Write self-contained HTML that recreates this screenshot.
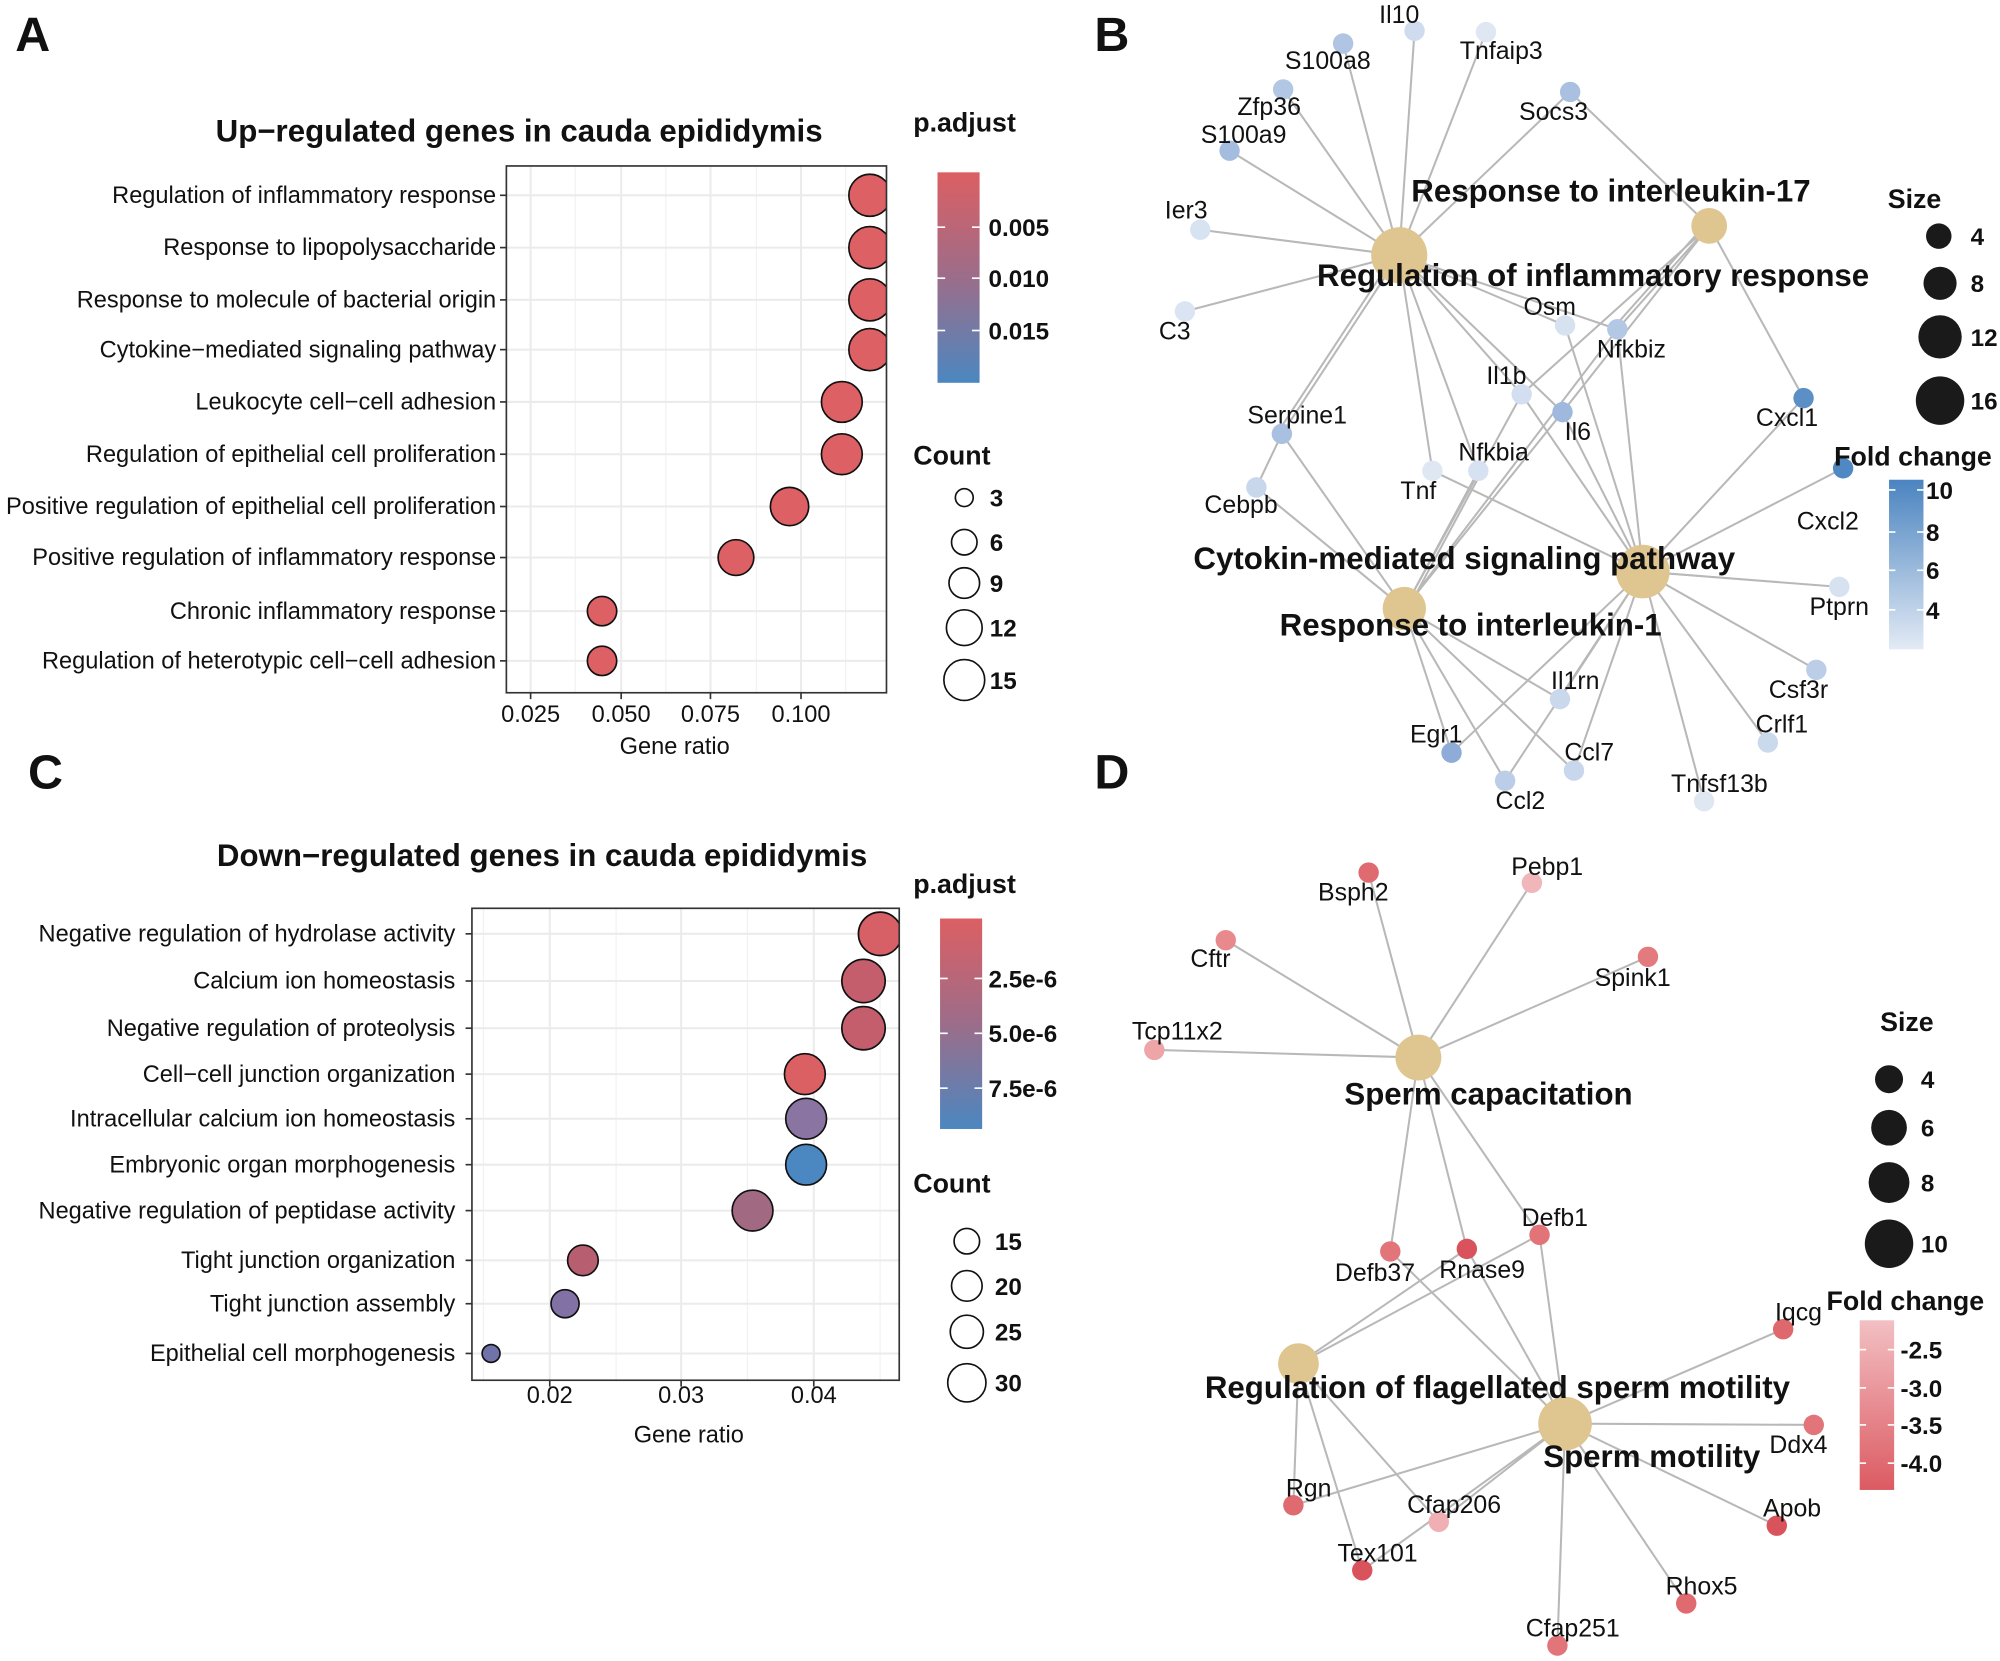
<!DOCTYPE html>
<html><head><meta charset="utf-8"><style>
html,body{margin:0;padding:0;background:#fff}
svg{display:block}
text{font-family:"Liberation Sans",Arial,sans-serif;fill:#111}
.lab{font-size:18.5px;text-anchor:end}
.b{font-weight:bold}
.g{font-size:19.5px}
.cat{font-size:24.5px;font-weight:bold;text-anchor:middle}
.e{stroke:#b8b8b8;stroke-width:1.6;fill:none}
.grid{stroke:#ebebeb;stroke-width:1.6}
.gridm{stroke:#f2f2f2;stroke-width:1}
</style></head><body>
<svg width="2000" height="1661" viewBox="0 0 1568 1302" xmlns="http://www.w3.org/2000/svg">
<defs>
<linearGradient id="pa" x1="0" y1="0" x2="0" y2="1"><stop offset="0" stop-color="#dc5f63"/><stop offset="0.5" stop-color="#9c6d8a"/><stop offset="1" stop-color="#4b87c0"/></linearGradient>
<linearGradient id="fb" x1="0" y1="0" x2="0" y2="1"><stop offset="0" stop-color="#4a84c0"/><stop offset="1" stop-color="#e3eaf5"/></linearGradient>
<linearGradient id="fd" x1="0" y1="0" x2="0" y2="1"><stop offset="0" stop-color="#f2c0c3"/><stop offset="1" stop-color="#dc5a62"/></linearGradient>
<clipPath id="ca"><rect x="397" y="130" width="298" height="413"/></clipPath>
<clipPath id="cc"><rect x="370" y="712" width="335" height="370"/></clipPath>
</defs>
<rect width="1568" height="1302" fill="#fff"/>
<text x="12" y="40" font-size="38" class="b">A</text>
<text x="858" y="40" font-size="38" class="b">B</text>
<text x="22" y="618" font-size="38" class="b">C</text>
<text x="858" y="618" font-size="38" class="b">D</text>

<!-- PANEL A -->
<text x="407" y="111" font-size="24.5" class="b" text-anchor="middle">Up−regulated genes in cauda epididymis</text>
<g>
<line class="gridm" x1="451" y1="130" x2="451" y2="543"/><line class="gridm" x1="522" y1="130" x2="522" y2="543"/><line class="gridm" x1="593" y1="130" x2="593" y2="543"/><line class="gridm" x1="663" y1="130" x2="663" y2="543"/>
<line class="grid" x1="416" y1="130" x2="416" y2="543"/><line class="grid" x1="487" y1="130" x2="487" y2="543"/><line class="grid" x1="557" y1="130" x2="557" y2="543"/><line class="grid" x1="628" y1="130" x2="628" y2="543"/>
<g class="grid">
<line x1="397" y1="153" x2="695" y2="153"/><line x1="397" y1="194" x2="695" y2="194"/><line x1="397" y1="235" x2="695" y2="235"/><line x1="397" y1="274" x2="695" y2="274"/><line x1="397" y1="315" x2="695" y2="315"/><line x1="397" y1="356" x2="695" y2="356"/><line x1="397" y1="397" x2="695" y2="397"/><line x1="397" y1="437" x2="695" y2="437"/><line x1="397" y1="479" x2="695" y2="479"/><line x1="397" y1="518" x2="695" y2="518"/>
</g>
<g fill="#dc6064" stroke="#111" stroke-width="1.3" clip-path="url(#ca)">
<circle cx="682" cy="153" r="16.5"/><circle cx="682" cy="194" r="16.5"/><circle cx="682" cy="235" r="16.5"/><circle cx="682" cy="274" r="16.5"/>
<circle cx="660" cy="315" r="16"/><circle cx="660" cy="356" r="16"/><circle cx="619" cy="397" r="15"/><circle cx="577" cy="437" r="14"/>
<circle cx="472" cy="479" r="11.5"/><circle cx="472" cy="518" r="11.5"/>
</g>
<rect x="397" y="130" width="298" height="413" fill="none" stroke="#333" stroke-width="1.3"/>
<g stroke="#333" stroke-width="1.3">
<line x1="392" y1="153" x2="397" y2="153"/><line x1="392" y1="194" x2="397" y2="194"/><line x1="392" y1="235" x2="397" y2="235"/><line x1="392" y1="274" x2="397" y2="274"/><line x1="392" y1="315" x2="397" y2="315"/><line x1="392" y1="356" x2="397" y2="356"/><line x1="392" y1="397" x2="397" y2="397"/><line x1="392" y1="437" x2="397" y2="437"/><line x1="392" y1="479" x2="397" y2="479"/><line x1="392" y1="518" x2="397" y2="518"/>
<line x1="416" y1="543" x2="416" y2="548"/><line x1="487" y1="543" x2="487" y2="548"/><line x1="557" y1="543" x2="557" y2="548"/><line x1="628" y1="543" x2="628" y2="548"/>
</g>
<g class="lab">
<text x="389" y="159">Regulation of inflammatory response</text>
<text x="389" y="200">Response to lipopolysaccharide</text>
<text x="389" y="241">Response to molecule of bacterial origin</text>
<text x="389" y="280">Cytokine−mediated signaling pathway</text>
<text x="389" y="321">Leukocyte cell−cell adhesion</text>
<text x="389" y="362">Regulation of epithelial cell proliferation</text>
<text x="389" y="403">Positive regulation of epithelial cell proliferation</text>
<text x="389" y="443">Positive regulation of inflammatory response</text>
<text x="389" y="485">Chronic inflammatory response</text>
<text x="389" y="524">Regulation of heterotypic cell−cell adhesion</text>
</g>
<g font-size="18.5" text-anchor="middle">
<text x="416" y="566">0.025</text><text x="487" y="566">0.050</text><text x="557" y="566">0.075</text><text x="628" y="566">0.100</text>
<text x="529" y="591">Gene ratio</text>
</g>
<text x="716" y="103" font-size="21" class="b">p.adjust</text>
<rect x="735" y="135" width="33" height="165" fill="url(#pa)"/>
<g stroke="#fff" stroke-width="1.3"><line x1="735" y1="178" x2="741" y2="178"/><line x1="762" y1="178" x2="768" y2="178"/><line x1="735" y1="218" x2="741" y2="218"/><line x1="762" y1="218" x2="768" y2="218"/><line x1="735" y1="259" x2="741" y2="259"/><line x1="762" y1="259" x2="768" y2="259"/></g>
<g font-size="19" class="b"><text x="775" y="185">0.005</text><text x="775" y="225">0.010</text><text x="775" y="266">0.015</text></g>
<text x="716" y="364" font-size="21" class="b">Count</text>
<g fill="none" stroke="#111" stroke-width="1.3"><circle cx="756" cy="390" r="7"/><circle cx="756" cy="425" r="10"/><circle cx="756" cy="457" r="12"/><circle cx="756" cy="492" r="14"/><circle cx="756" cy="533" r="16"/></g>
<g font-size="19" class="b"><text x="776" y="397">3</text><text x="776" y="432">6</text><text x="776" y="464">9</text><text x="776" y="499">12</text><text x="776" y="540">15</text></g>
</g>

<!-- PANEL C -->
<text x="425" y="679" font-size="24.5" class="b" text-anchor="middle">Down−regulated genes in cauda epididymis</text>
<g>
<line class="gridm" x1="379" y1="712" x2="379" y2="1082"/><line class="gridm" x1="483" y1="712" x2="483" y2="1082"/><line class="gridm" x1="586" y1="712" x2="586" y2="1082"/><line class="gridm" x1="690" y1="712" x2="690" y2="1082"/>
<line class="grid" x1="431" y1="712" x2="431" y2="1082"/><line class="grid" x1="534" y1="712" x2="534" y2="1082"/><line class="grid" x1="638" y1="712" x2="638" y2="1082"/>
<g class="grid">
<line x1="370" y1="732" x2="705" y2="732"/><line x1="370" y1="769" x2="705" y2="769"/><line x1="370" y1="806" x2="705" y2="806"/><line x1="370" y1="842" x2="705" y2="842"/><line x1="370" y1="877" x2="705" y2="877"/><line x1="370" y1="913" x2="705" y2="913"/><line x1="370" y1="949" x2="705" y2="949"/><line x1="370" y1="988" x2="705" y2="988"/><line x1="370" y1="1022" x2="705" y2="1022"/><line x1="370" y1="1061" x2="705" y2="1061"/>
</g>
<g stroke="#111" stroke-width="1.3" clip-path="url(#cc)">
<circle cx="690" cy="732" r="17" fill="#d75f66"/><circle cx="677" cy="769" r="17" fill="#c45d6c"/><circle cx="677" cy="806" r="17" fill="#c45d6c"/>
<circle cx="631" cy="842" r="16" fill="#db6064"/><circle cx="632" cy="877" r="16" fill="#8a74a2"/><circle cx="632" cy="913" r="16" fill="#4b88c2"/>
<circle cx="590" cy="949" r="16" fill="#a26a82"/><circle cx="457" cy="988" r="12" fill="#b75e70"/><circle cx="443" cy="1022" r="11" fill="#8271a4"/><circle cx="385" cy="1061" r="7" fill="#7072aa"/>
</g>
<rect x="370" y="712" width="335" height="370" fill="none" stroke="#333" stroke-width="1.3"/>
<g stroke="#333" stroke-width="1.3">
<line x1="365" y1="732" x2="370" y2="732"/><line x1="365" y1="769" x2="370" y2="769"/><line x1="365" y1="806" x2="370" y2="806"/><line x1="365" y1="842" x2="370" y2="842"/><line x1="365" y1="877" x2="370" y2="877"/><line x1="365" y1="913" x2="370" y2="913"/><line x1="365" y1="949" x2="370" y2="949"/><line x1="365" y1="988" x2="370" y2="988"/><line x1="365" y1="1022" x2="370" y2="1022"/><line x1="365" y1="1061" x2="370" y2="1061"/>
<line x1="431" y1="1082" x2="431" y2="1087"/><line x1="534" y1="1082" x2="534" y2="1087"/><line x1="638" y1="1082" x2="638" y2="1087"/>
</g>
<g class="lab">
<text x="357" y="738">Negative regulation of hydrolase activity</text>
<text x="357" y="775">Calcium ion homeostasis</text>
<text x="357" y="812">Negative regulation of proteolysis</text>
<text x="357" y="848">Cell−cell junction organization</text>
<text x="357" y="883">Intracellular calcium ion homeostasis</text>
<text x="357" y="919">Embryonic organ morphogenesis</text>
<text x="357" y="955">Negative regulation of peptidase activity</text>
<text x="357" y="994">Tight junction organization</text>
<text x="357" y="1028">Tight junction assembly</text>
<text x="357" y="1067">Epithelial cell morphogenesis</text>
</g>
<g font-size="18.5" text-anchor="middle">
<text x="431" y="1100">0.02</text><text x="534" y="1100">0.03</text><text x="638" y="1100">0.04</text>
<text x="540" y="1131">Gene ratio</text>
</g>
<text x="716" y="700" font-size="21" class="b">p.adjust</text>
<rect x="737" y="720" width="33" height="165" fill="url(#pa)"/>
<g stroke="#fff" stroke-width="1.3"><line x1="737" y1="767" x2="743" y2="767"/><line x1="764" y1="767" x2="770" y2="767"/><line x1="737" y1="810" x2="743" y2="810"/><line x1="764" y1="810" x2="770" y2="810"/><line x1="737" y1="853" x2="743" y2="853"/><line x1="764" y1="853" x2="770" y2="853"/></g>
<g font-size="19" class="b"><text x="775" y="774">2.5e-6</text><text x="775" y="817">5.0e-6</text><text x="775" y="860">7.5e-6</text></g>
<text x="716" y="935" font-size="21" class="b">Count</text>
<g fill="none" stroke="#111" stroke-width="1.3"><circle cx="758" cy="973" r="10"/><circle cx="758" cy="1008" r="12"/><circle cx="758" cy="1044" r="13"/><circle cx="758" cy="1084" r="15"/></g>
<g font-size="19" class="b"><text x="780" y="980">15</text><text x="780" y="1015">20</text><text x="780" y="1051">25</text><text x="780" y="1091">30</text></g>
</g>

<!-- PANEL B -->
<g class="e">
<path d="M1097 200L1109 24M1097 200L1165 25M1097 200L1053 34M1097 200L1006 70M1097 200L964 118M1097 200L941 180M1097 200L929 244M1097 200L1231 72M1097 200L1227 255M1097 200L1268 258M1097 200L1193 309M1097 200L1225 323M1097 200L1005 340M1093 200L1001 340M1097 200L1123 369M1097 200L1159 369"/>
<path d="M1340 177L1231 72M1340 177L1414 312M1340 177L1268 258M1336 177L1264 258M1340 177L1193 309M1340 177L1225 323"/>
<path d="M1288 448L1414 312M1288 448L1445 367M1288 448L1442 460M1288 448L1424 525M1288 448L1386 582M1288 448L1336 628M1288 448L1234 604M1288 448L1223 548M1288 448L1138 590M1288 448L1123 369M1288 448L1193 309M1288 448L1225 323M1288 448L1227 255M1288 448L1268 258M1288 448L1180 612"/>
<path d="M1101 477L985 382M1101 477L1005 340M1101 477L1193 309M1101 477L1159 369M1104 477L1162 369M1101 477L1138 590M1101 477L1180 612M1101 477L1234 604M1101 477L1223 548M1101 477L1225 323M1101 477L1268 258M1005 340L985 382"/>
</g>
<g fill="#dfc690">
<circle cx="1097" cy="200" r="22"/><circle cx="1340" cy="177" r="14"/><circle cx="1288" cy="448" r="21"/><circle cx="1101" cy="477" r="17"/>
</g>
<g>
<circle cx="1109" cy="24" r="8" fill="#cfdcef"/><circle cx="1165" cy="25" r="8" fill="#dfe7f3"/><circle cx="1053" cy="34" r="8" fill="#afc5e3"/>
<circle cx="1231" cy="72" r="8" fill="#a9c0e1"/><circle cx="1006" cy="70" r="8" fill="#b2c7e4"/><circle cx="964" cy="118" r="8" fill="#a4bddf"/>
<circle cx="941" cy="180" r="8" fill="#d8e3f2"/><circle cx="929" cy="244" r="8" fill="#dbe4f2"/><circle cx="1227" cy="255" r="8" fill="#d7e2f1"/>
<circle cx="1268" cy="258" r="8" fill="#b3c8e4"/><circle cx="1414" cy="312" r="8" fill="#5c8fc6"/><circle cx="1193" cy="309" r="8" fill="#d3dff0"/>
<circle cx="1225" cy="323" r="8" fill="#9fb9de"/><circle cx="1005" cy="340" r="8" fill="#a9c0e1"/><circle cx="1159" cy="369" r="8" fill="#d6e1f1"/>
<circle cx="1123" cy="369" r="8" fill="#dfe7f3"/><circle cx="985" cy="382" r="8" fill="#c9d7ec"/><circle cx="1445" cy="367" r="8" fill="#4f88c3"/>
<circle cx="1442" cy="460" r="8" fill="#d7e2f1"/><circle cx="1424" cy="525" r="8" fill="#bccee7"/><circle cx="1223" cy="548" r="8" fill="#cad8ec"/>
<circle cx="1386" cy="582" r="8" fill="#cbd9ed"/><circle cx="1138" cy="590" r="8" fill="#8eacd7"/><circle cx="1234" cy="604" r="8" fill="#c9d7ec"/>
<circle cx="1180" cy="612" r="8" fill="#bccee7"/><circle cx="1336" cy="628" r="8" fill="#dfe7f3"/>
</g>
<g class="g" text-anchor="middle">
<text x="1097" y="18">Il10</text><text x="1177" y="46">Tnfaip3</text><text x="1041" y="54">S100a8</text><text x="1218" y="94">Socs3</text>
<text x="995" y="90">Zfp36</text><text x="975" y="112">S100a9</text><text x="930" y="171">Ier3</text><text x="921" y="266">C3</text>
<text x="1215" y="247">Osm</text><text x="1279" y="280">Nfkbiz</text><text x="1401" y="334">Cxcl1</text><text x="1181" y="301">Il1b</text>
<text x="1237" y="345">Il6</text><text x="1017" y="332">Serpine1</text><text x="1171" y="361">Nfkbia</text><text x="1112" y="391">Tnf</text>
<text x="973" y="402">Cebpb</text><text x="1433" y="415">Cxcl2</text><text x="1442" y="482">Ptprn</text><text x="1410" y="547">Csf3r</text>
<text x="1235" y="540">Il1rn</text><text x="1397" y="574">Crlf1</text><text x="1126" y="582">Egr1</text><text x="1246" y="596">Ccl7</text>
<text x="1192" y="634">Ccl2</text><text x="1348" y="621">Tnfsf13b</text>
</g>
<g class="cat">
<text x="1263" y="158">Response to interleukin-17</text>
<text x="1249" y="224">Regulation of inflammatory response</text>
<text x="1148" y="446">Cytokin-mediated signaling pathway</text>
<text x="1153" y="498">Response to interleukin-1</text>
</g>
<text x="1480" y="163" font-size="21" class="b">Size</text>
<g fill="#1a1a1a"><circle cx="1520" cy="185" r="10"/><circle cx="1521" cy="222" r="13"/><circle cx="1521" cy="264" r="17"/><circle cx="1521" cy="314" r="19"/></g>
<g font-size="19" class="b"><text x="1545" y="192">4</text><text x="1545" y="229">8</text><text x="1545" y="271">12</text><text x="1545" y="321">16</text></g>
<text x="1438" y="365" font-size="21" class="b">Fold change</text>
<rect x="1481" y="376" width="27" height="133" fill="url(#fb)"/>
<g stroke="#fff" stroke-width="1.3"><line x1="1481" y1="384" x2="1486" y2="384"/><line x1="1503" y1="384" x2="1508" y2="384"/><line x1="1481" y1="417" x2="1486" y2="417"/><line x1="1503" y1="417" x2="1508" y2="417"/><line x1="1481" y1="447" x2="1486" y2="447"/><line x1="1503" y1="447" x2="1508" y2="447"/><line x1="1481" y1="478" x2="1486" y2="478"/><line x1="1503" y1="478" x2="1508" y2="478"/></g>
<g font-size="19" class="b"><text x="1510" y="391">10</text><text x="1510" y="424">8</text><text x="1510" y="454">6</text><text x="1510" y="485">4</text></g>

<!-- PANEL D -->
<g class="e">
<path d="M1112 829L1073 684M1112 829L1201 692M1112 829L961 737M1112 829L1292 750M1112 829L905 823M1112 829L1207 968M1112 829L1090 981M1112 829L1150 979"/>
<path d="M1018 1069L1150 979M1018 1069L1207 968M1018 1069L1014 1180M1018 1069L1068 1231M1018 1069L1128 1193"/>
<path d="M1227 1116L1207 968M1227 1116L1150 979M1227 1116L1090 981M1227 1116L1398 1042M1227 1116L1422 1117M1227 1116L1393 1196M1227 1116L1322 1257M1227 1116L1221 1290M1227 1116L1014 1180M1227 1116L1128 1193M1227 1116L1068 1231"/>
</g>
<g fill="#dfc690"><circle cx="1112" cy="829" r="18"/><circle cx="1018" cy="1069" r="16"/><circle cx="1227" cy="1116" r="21"/></g>
<g>
<circle cx="1073" cy="684" r="8" fill="#df6a6f"/><circle cx="1201" cy="692" r="8" fill="#f0b6b9"/><circle cx="961" cy="737" r="8" fill="#e8898d"/>
<circle cx="1292" cy="750" r="8" fill="#e37a7e"/><circle cx="905" cy="823" r="8" fill="#eea5a8"/><circle cx="1207" cy="968" r="8" fill="#e27478"/>
<circle cx="1090" cy="981" r="8" fill="#e27579"/><circle cx="1150" cy="979" r="8" fill="#d8535b"/><circle cx="1398" cy="1042" r="8" fill="#df686d"/>
<circle cx="1422" cy="1117" r="8" fill="#e27579"/><circle cx="1014" cy="1180" r="8" fill="#df6a6f"/><circle cx="1128" cy="1193" r="8" fill="#f0b0b3"/>
<circle cx="1393" cy="1196" r="8" fill="#d8535b"/><circle cx="1068" cy="1231" r="8" fill="#d8535b"/><circle cx="1322" cy="1257" r="8" fill="#df6a6f"/>
<circle cx="1221" cy="1290" r="8" fill="#e27579"/>
</g>
<g class="g" text-anchor="middle">
<text x="1061" y="706">Bsph2</text><text x="1213" y="686">Pebp1</text><text x="949" y="758">Cftr</text><text x="1280" y="773">Spink1</text>
<text x="923" y="815">Tcp11x2</text><text x="1219" y="961">Defb1</text><text x="1078" y="1004">Defb37</text><text x="1162" y="1002">Rnase9</text>
<text x="1410" y="1035">Iqcg</text><text x="1410" y="1139">Ddx4</text><text x="1026" y="1173">Rgn</text><text x="1140" y="1186">Cfap206</text>
<text x="1405" y="1189">Apob</text><text x="1080" y="1224">Tex101</text><text x="1334" y="1250">Rhox5</text><text x="1233" y="1283">Cfap251</text>
</g>
<g class="cat">
<text x="1167" y="866">Sperm capacitation</text>
<text x="1174" y="1096">Regulation of flagellated sperm motility</text>
<text x="1295" y="1150">Sperm motility</text>
</g>
<text x="1474" y="808" font-size="21" class="b">Size</text>
<g fill="#1a1a1a"><circle cx="1481" cy="846" r="11"/><circle cx="1481" cy="884" r="14"/><circle cx="1481" cy="927" r="16"/><circle cx="1481" cy="975" r="19"/></g>
<g font-size="19" class="b"><text x="1506" y="853">4</text><text x="1506" y="891">6</text><text x="1506" y="934">8</text><text x="1506" y="982">10</text></g>
<text x="1432" y="1027" font-size="21" class="b">Fold change</text>
<rect x="1458" y="1035" width="27" height="133" fill="url(#fd)"/>
<g stroke="#fff" stroke-width="1.3"><line x1="1458" y1="1058" x2="1463" y2="1058"/><line x1="1480" y1="1058" x2="1485" y2="1058"/><line x1="1458" y1="1088" x2="1463" y2="1088"/><line x1="1480" y1="1088" x2="1485" y2="1088"/><line x1="1458" y1="1117" x2="1463" y2="1117"/><line x1="1480" y1="1117" x2="1485" y2="1117"/><line x1="1458" y1="1147" x2="1463" y2="1147"/><line x1="1480" y1="1147" x2="1485" y2="1147"/></g>
<g font-size="19" class="b"><text x="1490" y="1065">-2.5</text><text x="1490" y="1095">-3.0</text><text x="1490" y="1124">-3.5</text><text x="1490" y="1154">-4.0</text></g>
</svg>
</body></html>
